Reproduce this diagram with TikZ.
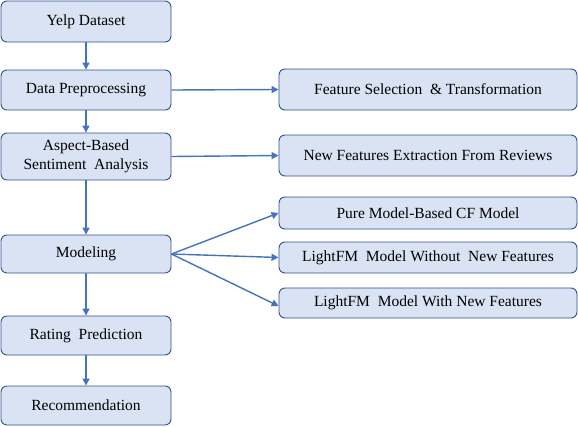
\documentclass[tikz,border=0pt]{standalone}
\usepackage{fontspec}
\setmainfont{Liberation Serif}
\usetikzlibrary{arrows.meta}
\definecolor{boxfill}{HTML}{DAE3F3}
\definecolor{boxline}{HTML}{2F528F}
\definecolor{arrowc}{HTML}{4472C4}
\begin{document}
\begin{tikzpicture}[x=1pt,y=-1pt,
  box/.style={draw=boxline, fill=boxfill, line width=0.9pt, rounded corners=6pt,
    align=center, inner sep=0pt, font=\rmfamily\fontsize{15.5}{19}\selectfont},
  lbox/.style={box, minimum width=170pt},
  rbox/.style={box, minimum width=298pt},
  conn/.style={draw=arrowc, line width=1.4pt, -{Triangle[length=7pt,width=7pt]}}]
\useasboundingbox (0,0) rectangle (578,426);
\node[lbox, minimum height=41pt] (yelp) at (86,21.5) {Yelp Dataset};
\node[lbox, minimum height=40pt] (pre) at (86,90) {Data Preprocessing};
\node[lbox, minimum height=47pt] (absa) at (86,156.5) {Aspect-Based\\Sentiment\ \ Analysis};
\node[lbox, minimum height=38pt] (model) at (86,254) {Modeling};
\node[lbox, minimum height=39pt] (rate) at (86,335.5) {Rating\ \ Prediction};
\node[lbox, minimum height=39pt] (rec) at (86,405.5) {Recommendation};
\node[rbox, minimum height=41pt] (fs) at (428,89.5) {Feature Selection\ \ \& Transformation};
\node[rbox, minimum height=41pt] (nf) at (428,155.5) {New Features\ Extraction\ From Reviews};
\node[rbox, minimum height=32pt] (pure) at (428,213) {Pure Model-Based\ CF Model};
\node[rbox, minimum height=31pt] (wo) at (428,257.5) {LightFM\ \ Model\ Without\ \ New Features};
\node[rbox, minimum height=30pt] (wi) at (428,303) {LightFM\ \ Model\ With\ New Features};
\coordinate (mo) at (model.east);
\coordinate (wit) at ([yshift=-3pt]wi.west);
\draw[conn] (yelp) -- (pre);
\draw[conn] (pre) -- (absa);
\draw[conn] (absa) -- (model);
\draw[conn] (model) -- (rate);
\draw[conn] (rate) -- (rec);
\draw[conn] (pre.east) -- (fs.west);
\draw[conn] (absa.east) -- (nf.west);
\draw[conn] (mo) -- (pure.west);
\draw[conn] (mo) -- (wo.west);
\draw[conn] (mo) -- (wit);
\end{tikzpicture}
\end{document}
